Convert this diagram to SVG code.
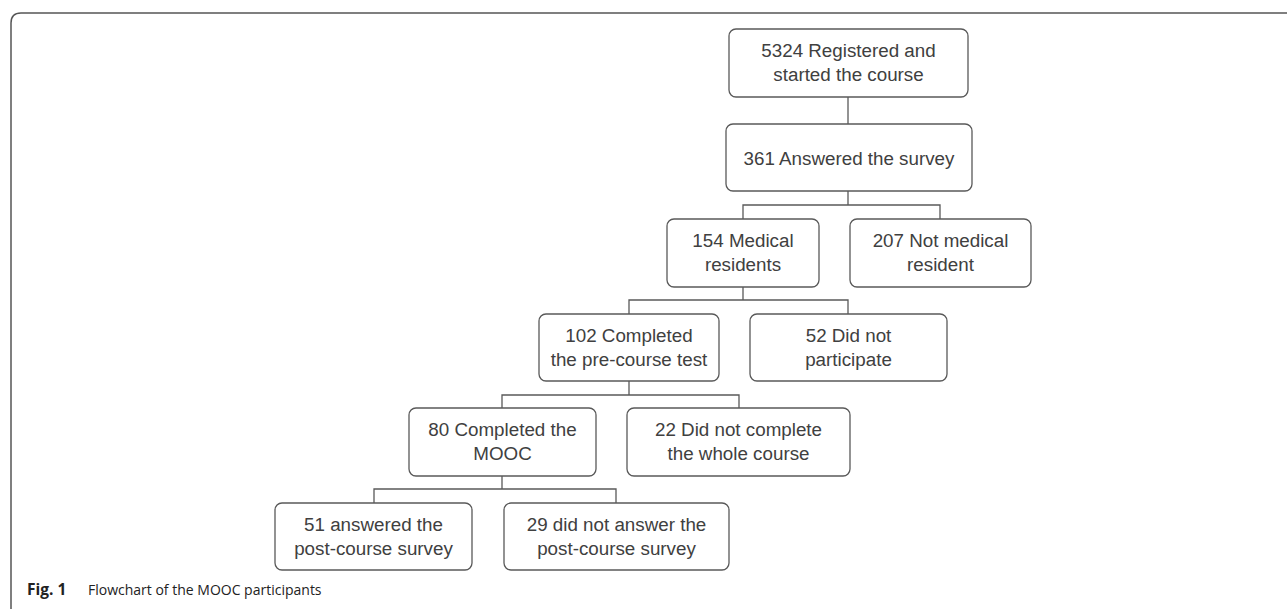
<svg xmlns="http://www.w3.org/2000/svg" width="1287" height="609" viewBox="0 0 1287 609">
<style>
.box{fill:#fff;stroke:#595959;stroke-width:1.3}
.t{font-family:"Liberation Sans",Arial,sans-serif;font-size:18.8px;fill:#404040;text-anchor:middle}
.c{fill:none;stroke:#595959;stroke-width:1.3}
.cap{font-family:"Open Sans","Liberation Sans",sans-serif;font-size:14px;fill:#222}
</style>
<rect width="1287" height="609" fill="#fff"/>
<path d="M11,609 L11,23 Q11,13 21,13 L1287,13" fill="none" stroke="#555" stroke-width="1.5"/>
<g id="connectors">
<path class="c" d="M848,97 V124"/>
<path class="c" d="M848,191 V205 M743,219 V205 H940 V219"/>
<path class="c" d="M743,287 V300 M629,314 V300 H848 V314"/>
<path class="c" d="M629,381 V395 M502,408 V395 H739 V408"/>
<path class="c" d="M502,476 V489 M374,503 V489 H616 V503"/>
</g>
<g id="n1"><rect class="box" x="729" y="29" width="239" height="68" rx="7"/><text class="t" x="848.5" y="57">5324 Registered and</text><text class="t" x="848.5" y="81">started the course</text></g>
<g id="n2"><rect class="box" x="726" y="124" width="246" height="67" rx="7"/><text class="t" x="849" y="165">361 Answered the survey</text></g>
<g id="n3"><rect class="box" x="667" y="219" width="152" height="68" rx="7"/><text class="t" x="743" y="247">154 Medical</text><text class="t" x="743" y="271">residents</text></g>
<g id="n4"><rect class="box" x="850" y="219" width="181" height="68" rx="7"/><text class="t" x="940.5" y="247">207 Not medical</text><text class="t" x="940.5" y="271">resident</text></g>
<g id="n5"><rect class="box" x="539" y="314" width="180" height="67" rx="7"/><text class="t" x="629" y="342">102 Completed</text><text class="t" x="629" y="366">the pre-course test</text></g>
<g id="n6"><rect class="box" x="750" y="314" width="197" height="67" rx="7"/><text class="t" x="848.5" y="342">52 Did not</text><text class="t" x="848.5" y="366">participate</text></g>
<g id="n7"><rect class="box" x="409" y="408" width="187" height="68" rx="7"/><text class="t" x="502.5" y="436">80 Completed the</text><text class="t" x="502.5" y="460">MOOC</text></g>
<g id="n8"><rect class="box" x="627" y="408" width="223" height="68" rx="7"/><text class="t" x="738.5" y="436">22 Did not complete</text><text class="t" x="738.5" y="460">the whole course</text></g>
<g id="n9"><rect class="box" x="275" y="503" width="197" height="67" rx="7"/><text class="t" x="373.5" y="531">51 answered the</text><text class="t" x="373.5" y="555">post-course survey</text></g>
<g id="n10"><rect class="box" x="504" y="503" width="225" height="67" rx="7"/><text class="t" x="616.5" y="531">29 did not answer the</text><text class="t" x="616.5" y="555">post-course survey</text></g>
<text class="cap" x="27" y="595"><tspan font-weight="bold" font-size="15.5px">Fig. 1</tspan><tspan x="88">Flowchart of the MOOC participants</tspan></text>
</svg>
